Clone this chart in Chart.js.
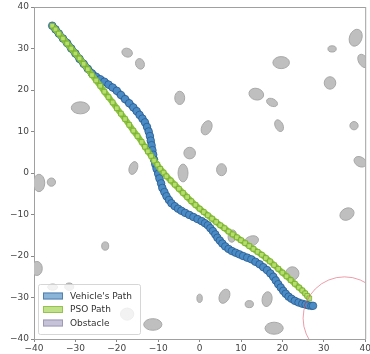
<!DOCTYPE html>
<html><head><meta charset="utf-8">
<script src="https://cdn.jsdelivr.net/npm/chart.js@4/dist/chart.umd.min.js"></script>
<style>html,body{margin:0;padding:0;background:#fff;overflow:hidden}</style>
</head><body>
<canvas id="c" width="370" height="354"></canvas>
<script>
// ---- data ----
const seriesNames = ["Vehicle's Path", "PSO Path", "Obstacle"];
const tickValues = [-40, -30, -20, -10, 0, 10, 20, 30, 40];

const vehX = [-35.6,-34.8,-34,-33,-32,-31,-30,-29,-28,-27,-26,-25,-24,-23,-22,-21,-20,-19,-18,-17,-16,-15.2,-14.5,-13.8,-13.2,-12.7,-12.3,-12,-11.8,-11.6,-11.4,-11.2,-11,-10.7,-10.4,-10,-9.7,-9.3,-9,-8.5,-8,-7.4,-6.8,-6,-5.2,-4.4,-3.5,-2.5,-1.5,-0.5,0.5,1.3,2,2.6,3.2,3.8,4.3,4.9,5.5,6.2,7,7.8,8.7,9.6,10.5,11.5,12.5,13.5,14.5,15.4,16.3,17.1,17.8,18.4,19,19.6,20.2,20.8,21.5,22.2,23,23.9,24.8,25.6,26.3,27,27.4];
const vehY = [35.5,34.6,33.6,32.4,31.3,30,28.8,27.5,26.3,25.1,24,23.2,22.6,22,21.3,20.6,19.8,18.8,17.8,16.8,15.8,14.9,14,13.1,12.2,11.1,10,8.9,7.8,6.7,5.5,4.4,3.2,2.1,1,-0.2,-1.3,-2.5,-3.6,-4.6,-5.6,-6.5,-7.3,-8,-8.6,-9.1,-9.6,-10.1,-10.6,-11.1,-11.6,-12.1,-12.6,-13.3,-14,-14.8,-15.6,-16.3,-17,-17.7,-18.3,-18.8,-19.2,-19.6,-20,-20.4,-20.8,-21.4,-22,-22.7,-23.4,-24.2,-25,-25.9,-26.8,-27.6,-28.4,-29.1,-29.8,-30.3,-30.8,-31.2,-31.5,-31.7,-31.9,-32,-32];

const psoX = [-35.6,-34.8,-34,-33,-32,-31,-30,-29,-28,-27,-26,-25,-24,-23,-22,-21,-20,-19,-18,-17,-16,-15,-14,-13.2,-12.5,-11.7,-11,-10.2,-9.5,-8.7,-8,-7,-6,-5,-4,-3,-2,-1,0,1,2,3,4,5,6,7,8,9,10,11,12,13,14,15,16,17,18,19,20,21,22,23,24,24.8,25.5,26,26.5];
const psoY = [35.5,34.6,33.6,32.4,31.2,30,28.8,27.6,26.3,25,23.6,22.3,21,19.6,18.3,17,15.6,14.3,13,11.6,10.2,8.9,7.5,6.3,5.2,4.1,3,2,1,0.1,-0.8,-1.8,-2.8,-3.8,-4.8,-5.8,-6.8,-7.7,-8.6,-9.4,-10.2,-11,-11.8,-12.6,-13.3,-14.1,-14.8,-15.5,-16.2,-16.9,-17.6,-18.3,-19,-19.7,-20.5,-21.3,-22.2,-23.1,-24,-24.9,-25.8,-26.7,-27.6,-28.3,-29,-29.6,-30.2];

// obstacles: centre, width, height (data units), tilt (deg, screen clockwise)
const obsX = [-17.5,-14.4,-28.8,-4.8,-16,-2.4,1.7,-4,37.7,32,19.7,39.5,31.5,13.7,17.5,19.2,37.3,5.3,38.8,-38.8,-35.8,-22.8,-39.3,-35.5,-31.5,-17.5,-11.3,35.6,7.9,12.5,22.4,0,6,12,16.3,18];
const obsY = [29,26.3,15.7,18.1,1.2,4.8,10.9,0,32.6,29.9,26.6,27,21.7,19,17,11.4,11.4,0.8,2.7,-2.4,-2.2,-17.6,-23,-27.5,-27.4,-34,-36.5,-9.9,-15.2,-16.4,-24.2,-30.2,-29.7,-31.6,-30.4,-37.4];
const obsW = [2.6,2.1,4.4,2.4,2.0,2.8,2.4,2.4,3.0,2.0,4.0,2.2,2.8,3.6,2.8,1.9,2.0,2.4,3.2,2.8,2.0,1.7,2.6,2.4,2.2,3.2,4.4,3.6,2.0,3.6,3.2,1.3,2.4,2.0,2.4,4.4];
const obsH = [2.1,2.6,2.9,3.2,3.2,2.8,3.6,4.3,4.2,1.5,2.9,3.5,3.0,2.8,1.8,3.0,2.0,2.9,2.3,4.2,2.0,2.0,3.4,1.5,1.8,2.9,2.8,2.8,3.0,2.4,3.2,2.0,3.6,1.7,3.6,2.9];
const obsA = [20,-20,0,0,20,0,25,0,20,0,0,-30,0,15,25,-25,0,0,30,0,0,0,0,0,0,0,0,-30,10,-20,0,0,25,0,10,0];

const goalX = 35, goalY = -35, goalR = 10;

// ---- helpers ----
const fmt = v => (v < 0 ? '\u2212' + Math.abs(v) : String(v));
const pts = (xs, ys) => xs.map((x, i) => ({x: x, y: ys[i]}));

const shapesPlugin = {
  id: 'shapes',
  beforeDatasetsDraw(chart) {
    const {ctx, chartArea: a, scales: {x, y}} = chart;
    ctx.save();
    ctx.beginPath(); ctx.rect(a.left, a.top, a.right - a.left, a.bottom - a.top); ctx.clip();
    const kx = Math.abs(x.getPixelForValue(1) - x.getPixelForValue(0));
    const ky = Math.abs(y.getPixelForValue(1) - y.getPixelForValue(0));
    for (let i = 0; i < obsX.length; i++) {
      ctx.beginPath();
      ctx.ellipse(x.getPixelForValue(obsX[i]), y.getPixelForValue(obsY[i]),
        obsW[i] * kx / 2, obsH[i] * ky / 2, obsA[i] * Math.PI / 180, 0, Math.PI * 2);
      ctx.fillStyle = '#bfbfbf'; ctx.fill();
      ctx.lineWidth = 1; ctx.strokeStyle = '#a8a8a8'; ctx.stroke();
    }
    ctx.restore();
  },
  afterDatasetsDraw(chart) {
    const {ctx, chartArea: a, scales: {x, y}} = chart;
    ctx.save();
    ctx.beginPath(); ctx.rect(a.left, a.top, a.right - a.left, a.bottom - a.top); ctx.clip();
    const kx = Math.abs(x.getPixelForValue(1) - x.getPixelForValue(0));
    ctx.beginPath();
    ctx.arc(x.getPixelForValue(goalX), y.getPixelForValue(goalY), goalR * kx, 0, Math.PI * 2);
    ctx.strokeStyle = 'rgba(225,90,110,0.75)'; ctx.lineWidth = 0.8; ctx.stroke();
    ctx.restore();
    // top & right spines
    ctx.save();
    ctx.strokeStyle = '#a0a0a0'; ctx.lineWidth = 1;
    ctx.beginPath();
    ctx.moveTo(a.left, a.top + 0.5); ctx.lineTo(a.right + 0.5, a.top + 0.5);
    ctx.moveTo(a.right + 0.5, a.top); ctx.lineTo(a.right + 0.5, a.bottom);
    ctx.stroke();
    ctx.restore();
  },
  afterDraw(chart) {
    const {ctx, chartArea: a} = chart;
    const bx = a.left + 4, by = a.bottom - 55, bw = 102, bh = 50;
    ctx.save();
    ctx.fillStyle = 'rgba(255,255,255,0.8)';
    ctx.strokeStyle = 'rgba(210,210,210,0.9)'; ctx.lineWidth = 1;
    ctx.beginPath(); ctx.roundRect(bx + 0.5, by + 0.5, bw, bh, 2); ctx.fill(); ctx.stroke();
    const fills = ['rgba(60,130,190,0.6)', 'rgba(150,205,60,0.6)', 'rgba(160,155,190,0.6)'];
    const edges = ['rgba(40,95,150,0.6)', 'rgba(120,175,40,0.6)', 'rgba(130,125,160,0.6)'];
    ctx.font = '9px "DejaVu Sans"'; ctx.textBaseline = 'middle'; ctx.fillStyle = '#333';
    for (let i = 0; i < seriesNames.length; i++) {
      const cy = by + 12 + i * 13.5;
      ctx.fillStyle = fills[i]; ctx.fillRect(bx + 5, cy - 3.5, 20, 7);
      ctx.strokeStyle = edges[i]; ctx.strokeRect(bx + 5.5, cy - 3, 19, 6);
      ctx.fillStyle = '#333'; ctx.fillText(seriesNames[i], bx + 32, cy + 0.5);
    }
    ctx.restore();
  }
};

const tickFont = {family: 'DejaVu Sans', size: 9};

new Chart(document.getElementById('c'), {
  type: 'scatter',
  data: {
    datasets: [
      {
        label: seriesNames[1], data: pts(psoX, psoY), showLine: true, order: 1,
        borderColor: '#8cc43e', borderWidth: 6,
        pointStyle: 'rect', pointRadius: 3.3, pointBackgroundColor: '#b6de6c',
        pointBorderColor: 'rgba(110,165,40,0.8)', pointBorderWidth: 0.8
      },
      {
        label: seriesNames[0], data: pts(vehX, vehY), showLine: true, order: 2,
        borderColor: '#3674b0', borderWidth: 7,
        pointStyle: 'circle', pointRadius: 3.8, pointBackgroundColor: '#4a8bc6',
        pointBorderColor: 'rgba(35,85,135,0.85)', pointBorderWidth: 0.8
      }
    ]
  },
  options: {
    responsive: false, animation: false, devicePixelRatio: 1,
    layout: {padding: {top: 7, right: 3, bottom: 0, left: 0}},
    plugins: {legend: {display: false}, tooltip: {enabled: false}},
    scales: {
      x: {
        type: 'linear', min: -40, max: 40,
        afterBuildTicks: s => { s.ticks = tickValues.map(v => ({value: v})); },
        ticks: {font: tickFont, color: '#444', padding: 1, maxRotation: 0, autoSkip: false, callback: v => fmt(v)},
        grid: {drawOnChartArea: false, tickLength: 3, color: '#888'},
        border: {color: '#a0a0a0'},
        afterFit: s => { s.height = 15; s.paddingLeft = 0; s.paddingRight = 0; }
      },
      y: {
        type: 'linear', min: -40, max: 40,
        afterBuildTicks: s => { s.ticks = tickValues.map(v => ({value: v})); },
        ticks: {font: tickFont, color: '#444', padding: 2, autoSkip: false, callback: v => fmt(v)},
        grid: {drawOnChartArea: false, tickLength: 3, color: '#888'},
        border: {color: '#a0a0a0'},
        afterFit: s => { s.width = 34; s.paddingTop = 0; s.paddingBottom = 0; }
      }
    }
  },
  plugins: [shapesPlugin]
});
</script>
</body></html>
